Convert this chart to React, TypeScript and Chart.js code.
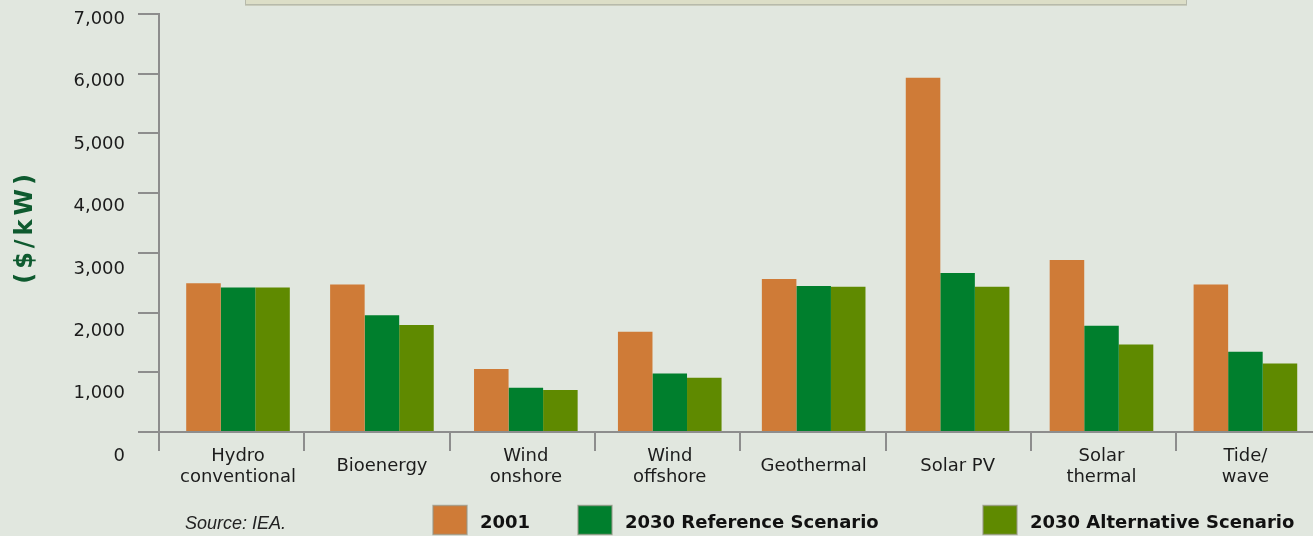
import React, { useEffect, useRef } from "react";
import { Chart, registerables } from "chart.js";

Chart.register(...registerables);

// ---------- data ----------
const CATEGORIES: (string | string[])[] = [
  ["Hydro", "conventional"],
  "Bioenergy",
  ["Wind", "onshore"],
  ["Wind", "offshore"],
  "Geothermal",
  "Solar PV",
  ["Solar", "thermal"],
  ["Tide/", "wave"],
];
const SERIES_NAMES = ["2001", "2030 Reference Scenario", "2030 Alternative Scenario"];
const VALUES_2001 = [2490, 2470, 1055, 1680, 2560, 5930, 2880, 2470];
const VALUES_2030_REF = [2420, 1955, 740, 980, 2445, 2660, 1780, 1345];
const VALUES_2030_ALT = [2420, 1790, 705, 910, 2430, 2430, 1465, 1145];
const Y_MIN = 0;
const Y_MAX = 7000;
const Y_STEP = 1000;
const Y_TITLE = "($/kW)";
const SOURCE_NOTE = "Source: IEA.";

// ---------- styles ----------
const BG = "#e1e7df";
const AXIS = "#8d8d8d";
const COLORS = ["#cf7b37", "#007f2d", "#5f8a00"];
const TEXT = "#1c1c1c";
const TITLE_COLOR = "#0e5a2f";
const FONT = "DejaVu Sans";
const CANVAS_W = 1340;
const CANVAS_H = 536;
const LEGEND_X = [433, 578, 983];

const decorPlugin = {
  id: "decor",
  afterDraw(chart: any) {
    const ctx = chart.ctx as CanvasRenderingContext2D;
    const y = chart.scales.y;
    ctx.save();
    // y tick labels (drawn slightly spread, as in the original)
    ctx.font = `18px "${FONT}"`;
    ctx.fillStyle = TEXT;
    ctx.textAlign = "right";
    ctx.textBaseline = "middle";
    const base = y.getPixelForValue(0);
    y.ticks.forEach((t: any) => {
      const p = y.getPixelForValue(t.value);
      const ly = p + 24 - 0.044 * (base - p);
      ctx.fillText(t.label, 125, ly);
    });
    // y title
    ctx.save();
    ctx.translate(26, (y.top + y.bottom) / 2 + 4);
    ctx.rotate(-Math.PI / 2);
    ctx.font = `bold 24px "${FONT}"`;
    (ctx as any).letterSpacing = "4px";
    ctx.fillStyle = TITLE_COLOR;
    ctx.textAlign = "center";
    ctx.fillText(Y_TITLE, 0, 0);
    ctx.restore();
    // legend
    chart.data.datasets.forEach((ds: any, i: number) => {
      const bx = LEGEND_X[i];
      ctx.fillStyle = ds.backgroundColor;
      ctx.fillRect(bx, 505.5, 34, 29);
      ctx.strokeStyle = "rgba(150,150,135,0.7)";
      ctx.lineWidth = 1.5;
      ctx.strokeRect(bx, 505.5, 34, 29);
      ctx.font = `bold 18px "${FONT}"`;
      ctx.fillStyle = "#111";
      ctx.textAlign = "left";
      ctx.textBaseline = "middle";
      ctx.fillText(ds.label, bx + 47, 523);
    });
    // source
    ctx.font = `italic 18px "Liberation Sans"`;
    ctx.fillStyle = "#222";
    ctx.textAlign = "left";
    ctx.textBaseline = "middle";
    ctx.fillText(SOURCE_NOTE, 185, 524);
    ctx.restore();
  },
};

export default function App() {
  const ref = useRef<HTMLCanvasElement | null>(null);
  useEffect(() => {
    if (!ref.current) return;
    const series = [VALUES_2001, VALUES_2030_REF, VALUES_2030_ALT];
    const chart = new Chart(ref.current, {
      type: "bar",
      data: {
        datasets: series.map((vals, s) => ({
          label: SERIES_NAMES[s],
          data: CATEGORIES.map((_, i) => ({ x: i, y: vals[i] })),
          backgroundColor: COLORS[s],
          borderWidth: 0,
          barPercentage: 1,
          categoryPercentage: 0.72,
        })),
      },
      options: {
        animation: false,
        responsive: false,
        maintainAspectRatio: false,
        layout: { padding: { left: 0, top: 12, right: CANVAS_W - 1321.4, bottom: 0 } },
        plugins: {
          legend: { display: false },
          tooltip: { enabled: false },
          title: { display: false },
        },
        scales: {
          x: {
            type: "linear",
            position: "bottom",
            weight: 1,
            min: -0.549,
            max: 7.528,
            offset: false,
            grid: { display: false, drawTicks: false, offset: false },
            border: { display: true, color: AXIS, width: 2 },
            ticks: {
              stepSize: 1,
              includeBounds: false,
              autoSkip: false,
              maxRotation: 0,
              minRotation: 0,
              crossAlign: "center",
              padding: 24,
              color: TEXT,
              font: { family: FONT, size: 18, lineHeight: 1.17 },
              callback: (v: any) =>
                Number.isInteger(v) && CATEGORIES[v] !== undefined ? CATEGORIES[v] : "",
            },
            afterFit: (s: any) => {
              s.height = 104;
            },
          },
          x2: {
            type: "linear",
            position: "bottom",
            weight: 0,
            min: 0,
            max: CATEGORIES.length,
            offset: false,
            grid: {
              offset: false,
              drawOnChartArea: false,
              drawTicks: true,
              tickLength: 19,
              color: AXIS,
              lineWidth: 2,
            },
            border: { display: false },
            ticks: { display: false, stepSize: 1, includeBounds: true },
            afterFit: (s: any) => {
              s.height = 0;
            },
          },
          y: {
            min: Y_MIN,
            max: Y_MAX,
            ticks: {
              stepSize: Y_STEP,
              color: "rgba(0,0,0,0)",
              font: { family: FONT, size: 18 },
            },
            grid: { drawOnChartArea: false, tickLength: 21, color: AXIS, lineWidth: 2 },
            border: { display: true, color: AXIS, width: 2 },
            afterFit: (s: any) => {
              s.width = 159;
            },
          },
        },
      },
      plugins: [decorPlugin],
    } as any);
    return () => chart.destroy();
  }, []);

  return (
    <div
      style={{
        position: "fixed",
        left: 0,
        top: 0,
        width: 1313,
        height: 536,
        overflow: "hidden",
        background: BG,
      }}
    >
      <div
        style={{
          position: "absolute",
          left: 245,
          top: -30,
          width: 940,
          height: 33,
          background: "#dcdec7",
          border: "1px solid #b7baab",
          boxShadow: "0 1px 0 #c9ccbc",
        }}
      />
      <canvas
        ref={ref}
        width={CANVAS_W}
        height={CANVAS_H}
        style={{ position: "absolute", left: 0, top: 0, width: CANVAS_W, height: CANVAS_H }}
      />
    </div>
  );
}
